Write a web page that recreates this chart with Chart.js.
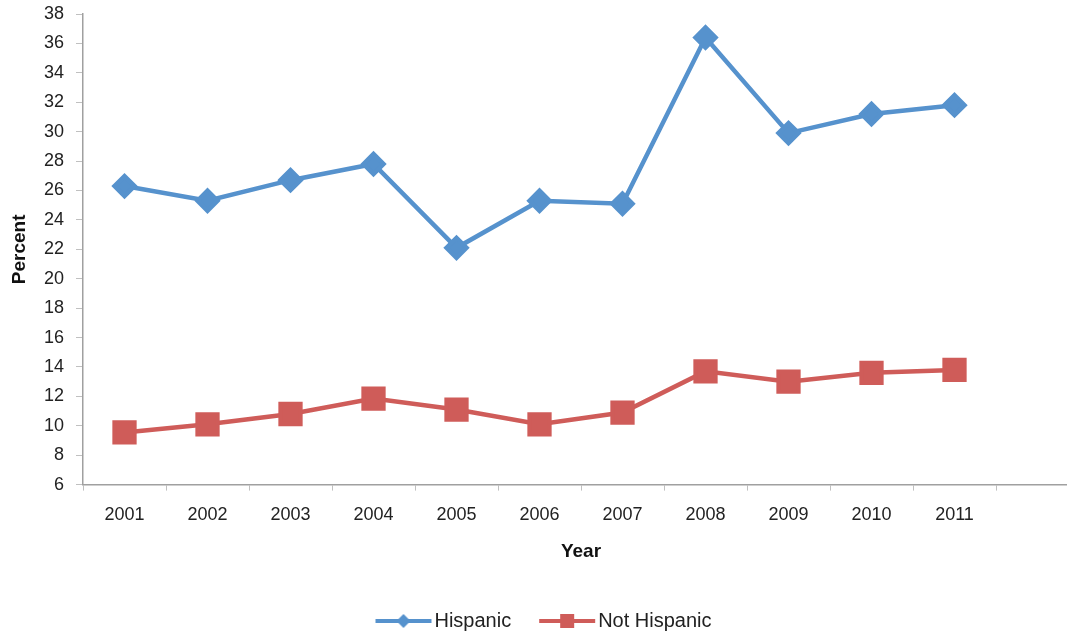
<!DOCTYPE html>
<html>
<head>
<meta charset="utf-8">
<script src="https://cdn.jsdelivr.net/npm/chart.js@4.4.1/dist/chart.umd.min.js"></script>
<style>
  html, body { margin: 0; padding: 0; background: #fff; overflow: hidden; }
  #chart { display: block; width: 1080px; height: 634px; }
</style>
</head>
<body>
<canvas id="chart" width="1080" height="634"></canvas>
<script>
// years on the x axis, last slot is empty like the original
const years = ['2001', '2002', '2003', '2004', '2005', '2006', '2007', '2008', '2009', '2010', '2011', ''];
const hispanic = [26.3, 25.3, 26.7, 27.8, 22.1, 25.3, 25.1, 36.4, 29.9, 31.2, 31.8];
const notHispanic = [9.55, 10.1, 10.8, 11.85, 11.1, 10.1, 10.9, 13.7, 13.0, 13.6, 13.8];

const blue = '#5692cd';
const red = '#cf5c59';
const font = 'Liberation Sans, Arial, sans-serif';

// line + marker icon for the legend
function legendIcon(color, kind) {
    const c = document.createElement('canvas');
    c.width = 65;
    c.height = 18;
    const g = c.getContext('2d');
    g.strokeStyle = color;
    g.fillStyle = color;
    g.lineWidth = 4;
    g.beginPath();
    g.moveTo(8, 9);
    g.lineTo(64, 9);
    g.stroke();
    const mid = 36;
    if (kind === 'diamond') {
        g.beginPath();
        g.moveTo(mid, 2); g.lineTo(mid + 7, 9); g.lineTo(mid, 16); g.lineTo(mid - 7, 9);
        g.closePath();
        g.fill();
    } else {
        g.fillRect(mid - 7, 2, 14, 14);
    }
    return c;
}
const icons = [legendIcon(blue, 'diamond'), legendIcon(red, 'square')];

new Chart(document.getElementById('chart'), {
    type: 'line',
    data: {
        labels: years,
        datasets: [{
            label: 'Hispanic',
            data: hispanic,
            borderColor: blue,
            backgroundColor: blue,
            borderWidth: 4.5,
            pointStyle: 'rectRot',
            pointRadius: 10,
            pointHoverRadius: 10,
            tension: 0
        }, {
            label: 'Not Hispanic',
            data: notHispanic,
            borderColor: red,
            backgroundColor: red,
            borderWidth: 4.5,
            pointStyle: 'rect',
            pointRadius: 14,
            pointHoverRadius: 14,
            tension: 0
        }]
    },
    options: {
        responsive: false,
        animation: false,
        layout: { autoPadding: false, padding: { left: 8, right: 1, top: 14, bottom: -7 } },
        plugins: {
            tooltip: { enabled: false },
            legend: {
                position: 'bottom',
                labels: {
                    usePointStyle: true,
                    pointStyleWidth: 49,
                    boxHeight: 18,
                    padding: 28,
                    color: '#222',
                    font: { family: font, size: 20 },
                    generateLabels: function(chart) {
                        const items = Chart.defaults.plugins.legend.labels.generateLabels(chart);
                        items.forEach((it, i) => { it.pointStyle = icons[i]; });
                        return items;
                    }
                }
            }
        },
        scales: {
            x: {
                offset: true,
                border: { color: '#a0a0a0', width: 1.5 },
                grid: {
                    offset: true,
                    drawOnChartArea: false,
                    drawTicks: true,
                    tickLength: 6,
                    color: '#c0c0c0'
                },
                ticks: { color: '#222', font: { family: font, size: 18 }, padding: 14, maxRotation: 0 },
                title: {
                    display: true,
                    text: 'Year',
                    color: '#111',
                    font: { family: font, size: 19, weight: 'bold' },
                    padding: { top: 0, bottom: 20 }
                },
                afterFit: function(scale) {
                    scale.paddingLeft = 0;
                    scale.paddingRight = 0;
                }
            },
            y: {
                min: 6,
                max: 38,
                border: { color: '#a0a0a0', width: 1.5 },
                grid: {
                    drawOnChartArea: false,
                    drawTicks: true,
                    tickLength: 7,
                    color: '#c0c0c0'
                },
                ticks: { stepSize: 2, color: '#222', font: { family: font, size: 18 }, padding: 12 },
                title: {
                    display: true,
                    text: 'Percent',
                    color: '#111',
                    font: { family: font, size: 19, weight: 'bold' },
                    padding: { top: 0, bottom: 14 }
                },
                afterFit: function(scale) {
                    scale.width = 75;
                    scale.paddingTop = 0;
                    scale.paddingBottom = 0;
                }
            }
        }
    }
});
</script>
</body>
</html>
